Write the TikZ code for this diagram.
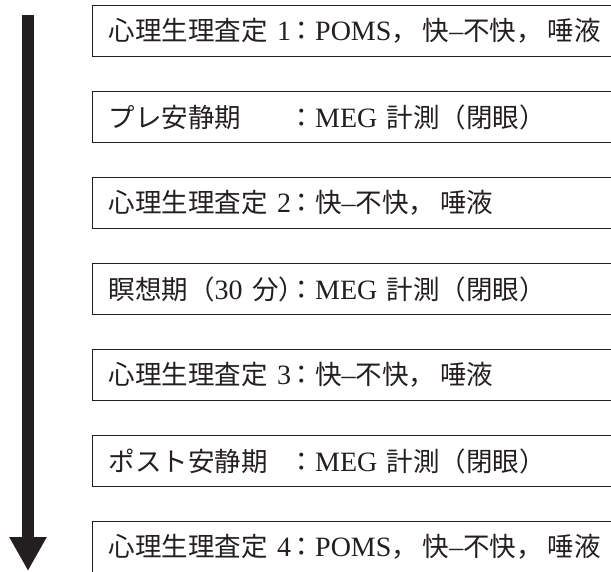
\documentclass[tikz,border=0pt]{standalone}
\usepackage{fontspec}
\setmainfont{Liberation Serif}
\newfontfamily\jp{Noto Sans CJK JP}
\usetikzlibrary{arrows.meta}
\definecolor{ink}{HTML}{231F20}
\newcommand{\J}[1]{{\jp\fontsize{26.5}{32}\selectfont #1}}
\newcommand{\cm}{\J{，}\hspace{5pt}}
\newcommand{\lab}[1]{\makebox[180pt][l]{#1}}
\begin{document}
\begin{tikzpicture}[x=1pt,y=-1pt,
  stepbox/.style={draw=ink, line width=1.4pt, anchor=north west,
    minimum height=51pt, text width=498pt, inner xsep=16pt, inner ysep=0pt,
    align=left, text=ink, font=\fontsize{28}{32}\selectfont},
  flow/.style={draw=ink, line width=12pt, -{Triangle[width=35pt,length=34pt]}}]
\useasboundingbox (0,0) rectangle (611,571);
\clip (0,0) rectangle (611,571);
\node[stepbox] (b1) at (92,5)   {\lab{\J{心理生理査定} 1}\J{：}POMS\cm\J{快}–\J{不快}\cm\J{唾液}};
\node[stepbox] (b2) at (92,91)  {\lab{\J{プレ安静期}}\J{：}MEG \J{計測（閉眼）}};
\node[stepbox] (b3) at (92,177) {\lab{\J{心理生理査定} 2}\J{：快}–\J{不快}\cm\J{唾液}};
\node[stepbox] (b4) at (92,263) {\lab{\J{瞑想期（}30 \J{分}\makebox[12pt][l]{\J{）}}}\J{：}MEG \J{計測（閉眼）}};
\node[stepbox] (b5) at (92,349) {\lab{\J{心理生理査定} 3}\J{：快}–\J{不快}\cm\J{唾液}};
\node[stepbox] (b6) at (92,435) {\lab{\J{ポスト安静期}}\J{：}MEG \J{計測（閉眼）}};
\node[stepbox] (b7) at (92,521) {\lab{\J{心理生理査定} 4}\J{：}POMS\cm\J{快}–\J{不快}\cm\J{唾液}};
\coordinate (astart) at (28,15);
\coordinate (aend) at (28,571);
\draw[flow] (astart) -- (aend);
\end{tikzpicture}
\end{document}
